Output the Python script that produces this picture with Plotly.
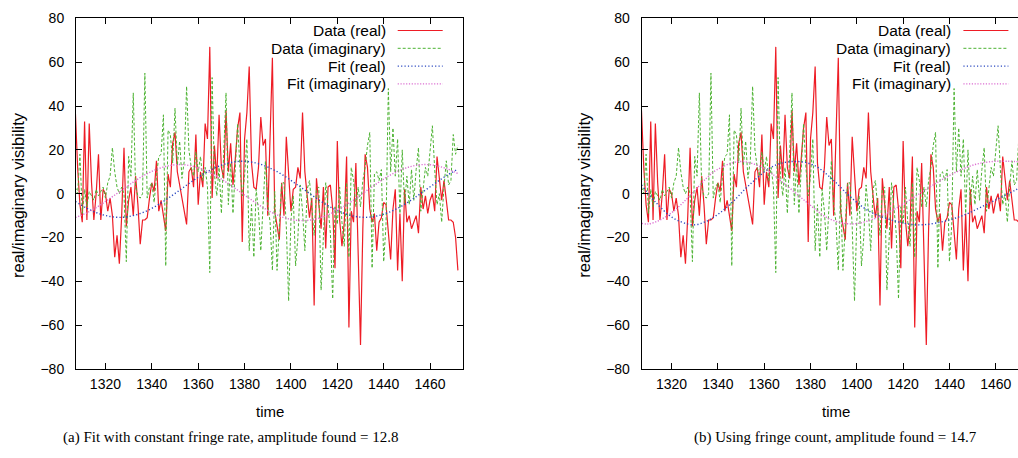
import plotly.graph_objects as go

# ---------------- data ----------------
time = list(range(1307, 1473))

data_real = [
    38, 12, -5, -13, 33, -12, 32, 5, -12, 0,
    18, -12, 2, 0, -8, -2, -10, -29, -19, -32,
    -10, 21, -15, -3, 3, -10, 8, -5, -23, -12,
    -12, -11, -2, 5, 1, 15, -8, -3, -10, -17,
    9, 3, 23, 28, 10, 4, -2, -7, -14, 10,
    12, 3, 27, -5, 10, 3, 32, 25, 67, -2,
    22, 7, 36, 12, 7, 38, 10, 23, 4, 16,
    30, 37, -22, 25, 37, 58, 14, 3, 2, 12,
    35, 22, 25, -10, 22, 62, -8, -15, -21, 5,
    -10, 26, 7, -8, 2, 3, 12, 7, 37, 10,
    -1, -11, -2, -51, 7, -3, -16, 3, -25, 3,
    4, -7, -34, 24, -12, -24, -13, 17, -61, -8,
    -13, 14, -27, -69, -16, 18, 12, -7, -13, -9,
    -26, -13, -11, -4, -5, -18, -30, -7, 2, -35,
    -9, -40, 2, -13, -10, -16, -13, -10, -18, 3,
    -7, -1, -9, -3, 0, -8, 17, 7, -3, 6,
    -4, -12, -12, -13, -20, -35,
]

data_imag = [
    3, 0, 18, -9, 2, -6, 1, -1, -3, 2,
    -1, 1, 3, -2, 5, 8, 21, 10, 3, 0,
    3, 0, -31, 17, 8, 46, 3, -1, -2, 0,
    55, -2, 3, 5, -4, 8, 17, 18, 36, -33,
    29, 27, 14, 39, 13, 24, 7, 15, 49, 20,
    12, 8, 19, 10, 17, 6, 12, 3, -36, 53,
    9, -1, 12, -9, 18, 46, -5, 14, -9, 10,
    32, 12, -1, 8, 25, -26, -5, -29, 2, -8,
    -26, -5, 15, -5, -13, -35, 1, -35, -15, 5,
    5, -15, -49, -12, -1, -33, -20, 4, -8, -26,
    2, 6, -6, -19, 2, 3, -44, -16, 5, -6,
    -18, -48, -6, -14, 3, -13, -24, 5, -29, 12,
    6, -6, 3, -6, 6, 12, 22, 28, -34, 9,
    10, 6, 11, -31, -14, 48, 10, 30, 8, 25,
    -9, 20, -5, 8, -5, 11, -3, 11, 21, -8,
    2, 12, 8, 20, 31, 11, -5, 0, -13, 3,
    15, 4, 6, 27, 18, 22,
]

# panel (a): fit with constant fringe rate (sampled from the drawn curves)
fit_a_time = [1307, 1312, 1317, 1322, 1327, 1332, 1337, 1342, 1347, 1352,
              1357, 1362, 1367, 1372, 1377, 1382, 1387, 1392, 1397, 1402,
              1407, 1412, 1417, 1422, 1427, 1432, 1437, 1442, 1447, 1452,
              1457, 1462, 1467, 1472]
fit_a_real = [-3.5, -6.65, -9.0, -10.4, -10.8, -10.0, -8.2, -5.5, -2.1, 1.6,
              5.4, 8.8, 11.7, 13.7, 14.7, 14.6, 13.4, 11.2, 8.2, 4.6,
              0.9, -2.8, -6.1, -8.6, -10.2, -10.8, -10.2, -8.6, -6.1, -2.8,
              0.9, 4.6, 8.2, 11.2]
fit_a_imag = [-10.9, -8.7, -5.7, -2.1, 1.6, 5.3, 8.6, 11.1, 12.7, 13.3,
              12.7, 11.1, 8.6, 5.3, 1.6, -2.1, -5.7, -8.7, -10.9, -12.1,
              -12.2, -11.2, -9.2, -6.3, -2.9, 0.9, 4.6, 8.0, 10.7, 12.5,
              13.3, 12.9, 11.5, 9.2]

# panel (b): fit using fringe count
fit_b_real_time = [1307, 1313.5, 1320.7, 1329.3, 1335, 1340.8, 1346.6, 1353.7,
                   1363.8, 1372.4, 1381, 1389, 1397, 1405.5, 1417, 1425.6,
                   1434.2, 1445.7, 1455.8, 1464.4, 1472]
fit_b_real = [4.0, -4.3, -11.1, -14.2, -12.6, -8.8, -3.5, 4.1,
              12.5, 14.7, 13.2, 7.0, -1.2, -8.1, -12.6, -14.2,
              -13.4, -10.0, -5.0, -0.5, 3.5]
fit_b_imag_time = [1307, 1310, 1315, 1320.7, 1327.9, 1335, 1339.4, 1349.4,
                   1359.5, 1368, 1378, 1388, 1398, 1408.4, 1417, 1425.6,
                   1434.2, 1442.8, 1450, 1458.6, 1465, 1472]
fit_b_imag = [-13.5, -13.8, -12.0, -8.1, -1.0, 7.0, 10.8, 14.7,
              11.8, 5.2, -3.6, -11.4, -13.8, -11.1, -6.6, -1.0,
              4.8, 9.8, 13.0, 14.7, 14.8, 14.5]

y_ticks = [-80, -60, -40, -20, 0, 20, 40, 60, 80]
x_ticks = [1320, 1340, 1360, 1380, 1400, 1420, 1440, 1460]

series_names = ["Data (real)", "Data (imaginary)", "Fit (real)", "Fit (imaginary)"]
captions = ["(a) Fit with constant fringe rate, amplitude found = 12.8",
            "(b) Using fringe count, amplitude found = 14.7"]

# ---------------- styles ----------------
W, H = 1018, 458
RED = "#ee1c25"
GREEN = "#4cb232"
BLUE = "#2a48c0"
MAGENTA = "#dc6fd2"
styles = [
    dict(color=RED, width=1.2, dash="solid"),
    dict(color=GREEN, width=1.0, dash="3px,2px"),
    dict(color=BLUE, width=1.4, dash="1.2px,2.2px"),
    dict(color=MAGENTA, width=1.4, dash="1.2px,1.6px"),
]
FONT = "Liberation Sans, Arial, sans-serif"
SERIF = "Liberation Serif, Times New Roman, serif"


def px_x(p):
    return p / W


def px_y(p):
    return 1 - p / H


fig = go.Figure()

panels = [
    dict(xa="x", ya="y", fits=(fit_a_time, fit_a_real, fit_a_time, fit_a_imag)),
    dict(xa="x2", ya="y2", fits=(fit_b_real_time, fit_b_real, fit_b_imag_time, fit_b_imag)),
]

for p in panels:
    ft_r, fr, ft_i, fi = p["fits"]
    fig.add_trace(go.Scatter(x=time, y=data_real, mode="lines", line=styles[0],
                             xaxis=p["xa"], yaxis=p["ya"], showlegend=False))
    fig.add_trace(go.Scatter(x=time, y=data_imag, mode="lines", line=styles[1],
                             xaxis=p["xa"], yaxis=p["ya"], showlegend=False))
    fig.add_trace(go.Scatter(x=ft_r, y=fr, mode="lines", line=dict(styles[2], shape="spline"),
                             xaxis=p["xa"], yaxis=p["ya"], showlegend=False))
    fig.add_trace(go.Scatter(x=ft_i, y=fi, mode="lines", line=dict(styles[3], shape="spline"),
                             xaxis=p["xa"], yaxis=p["ya"], showlegend=False))

ydom = [px_y(369), px_y(18.4)]
axis_common = dict(showgrid=False, zeroline=False, showline=True, linecolor="black",
                   linewidth=1, ticks="inside", ticklen=6, tickcolor="black", tickwidth=1,
                   automargin=False,
                   tickfont=dict(family=FONT, size=14, color="black"))

fig.update_layout(
    width=W, height=H, margin=dict(l=0, r=0, t=0, b=0, pad=0), autosize=False,
    paper_bgcolor="white", plot_bgcolor="white", showlegend=False,
    xaxis=dict(axis_common, domain=[px_x(76), px_x(463)], range=[1307.3, 1474.2],
               tickvals=x_ticks, mirror="ticks", anchor="y", ticklabelstandoff=2),
    yaxis=dict(axis_common, domain=ydom, range=[-80, 80], tickvals=y_ticks,
               mirror="ticks", anchor="x", ticklabelstandoff=8),
    xaxis2=dict(axis_common, domain=[px_x(641.7), 1.0], range=[1307.1, 1469.6],
                tickvals=x_ticks, mirror="ticks", anchor="y2", ticklabelstandoff=2),
    yaxis2=dict(axis_common, domain=ydom, range=[-80, 80], tickvals=y_ticks,
                mirror=False, anchor="x2", ticklabelstandoff=8),
)

annotations = []
shapes = []
panel_offsets = [0.0, 565.7]
legend_rows = [30.5, 48.3, 66.1, 83.9]
for k, off in enumerate(panel_offsets):
    annotations.append(dict(x=px_x(18 + off), y=px_y(195), xref="paper", yref="paper",
                            text="real/imaginary visibility", textangle=-90, showarrow=False,
                            font=dict(family=FONT, size=16.5, color="black"),
                            xanchor="center", yanchor="middle"))
    annotations.append(dict(x=px_x(270 + off), y=px_y(411), xref="paper", yref="paper",
                            text="time", showarrow=False,
                            font=dict(family=FONT, size=15, color="black"),
                            xanchor="center", yanchor="middle"))
    annotations.append(dict(x=px_x([230, 835][k]), y=px_y(437), xref="paper", yref="paper",
                            text=captions[k], showarrow=False,
                            font=dict(family=SERIF, size=15, color="black"),
                            xanchor="center", yanchor="middle"))
    for i, name in enumerate(series_names):
        annotations.append(dict(x=px_x(386.7 + off), y=px_y(legend_rows[i]), xref="paper",
                                yref="paper", text=name, showarrow=False, borderpad=0,
                                font=dict(family=FONT, size=15.5, color="black"),
                                xanchor="right", yanchor="middle"))
        st = styles[i]
        shapes.append(dict(type="line", xref="paper", yref="paper",
                           x0=px_x(397.7 + off), x1=px_x(442.7 + off),
                           y0=px_y(legend_rows[i]), y1=px_y(legend_rows[i]),
                           line=dict(color=st["color"], width=st["width"], dash=st["dash"])))

fig.update_layout(annotations=annotations, shapes=shapes)
fig.write_html(
    "out.html",
    config={"responsive": False, "displayModeBar": False},
    post_script="document.body.style.margin='0';document.body.style.overflow='hidden';",
)
